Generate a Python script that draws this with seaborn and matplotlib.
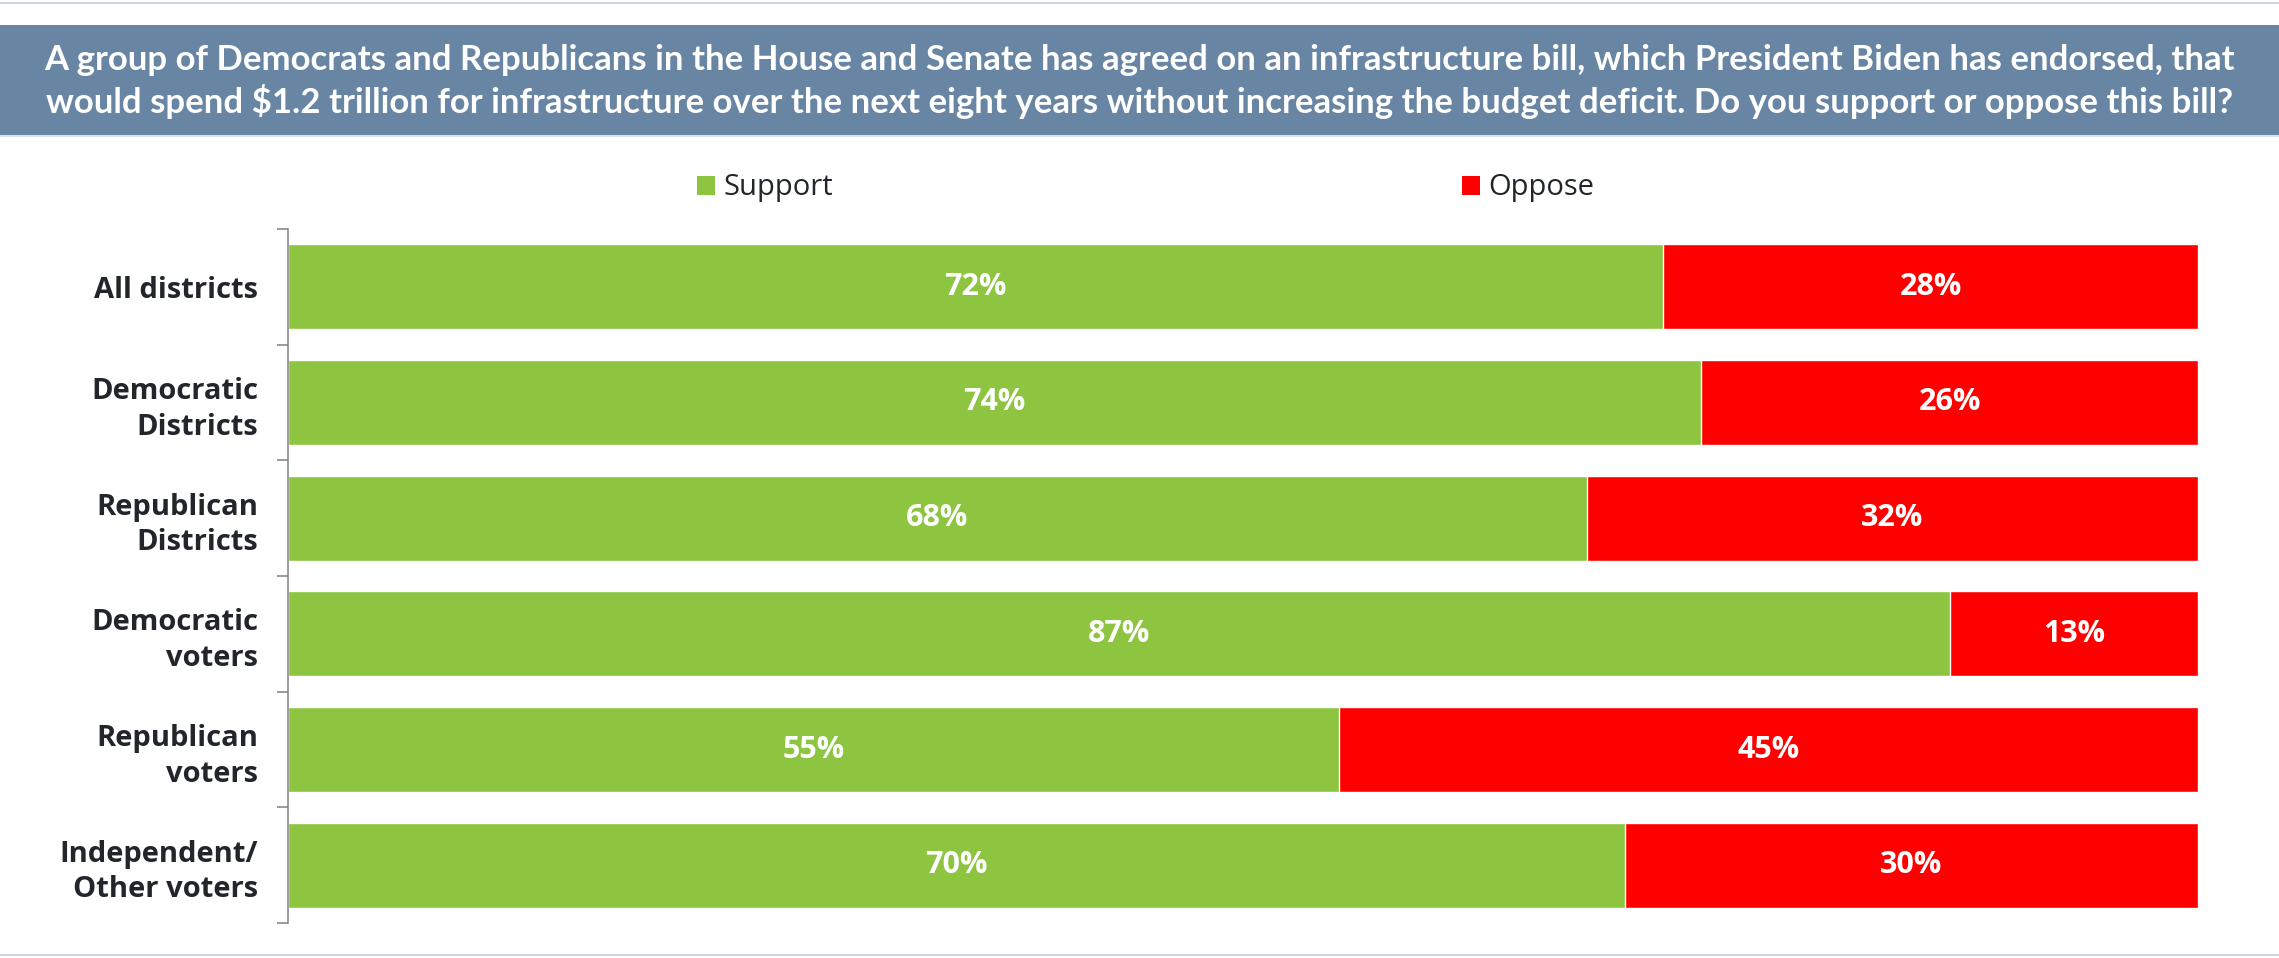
import matplotlib
matplotlib.use("Agg")
import numpy as np
import pandas as pd
import matplotlib.pyplot as plt
import seaborn as sns
from matplotlib.patches import Patch, Rectangle
from matplotlib.lines import Line2D

# Survey results (percent)
groups = ["All districts", "Democratic\nDistricts", "Republican\nDistricts",
          "Democratic\nvoters", "Republican\nvoters", "Independent/\nOther voters"]
support = [72, 74, 68, 87, 55, 70]
oppose = [28, 26, 32, 13, 45, 30]
series_names = ["Support", "Oppose"]
title_lines = [
    "A group of Democrats and Republicans in the House and Senate has agreed on an infrastructure bill, which President Biden has endorsed, that",
    "would spend $1.2 trillion for infrastructure over the next eight years without increasing the budget deficit. Do you support or oppose this bill?",
]

GREEN = "#8DC540"
RED = "#FF0000"
BANNER = "#6886A3"
RULE = "#BFCCD8"
TEXT = "#22262B"
AXIS = "#808080"

sns.set_theme(style="white")
plt.rcParams["font.family"] = ["Open Sans", "DejaVu Sans"]

W, H = 2279, 958
fig = plt.figure(figsize=(W / 100, H / 100), dpi=100)
fig.patch.set_facecolor("white")

# Title banner and thin rules
fig.patches.append(Rectangle((0, 1 - 135 / H), 1, 110 / H, transform=fig.transFigure,
                             facecolor=BANNER, edgecolor="none", zorder=0))
for ypix, col in [(3, RULE), (955, RULE), (135.5, "#D3DEE8")]:
    fig.add_artist(Line2D([0, 1], [1 - ypix / H, 1 - ypix / H], transform=fig.transFigure,
                          color=col, lw=1.2))

title_fs = 24
title_texts = []
for line, base in zip(title_lines, [70, 113]):
    t = fig.text(0.5, 1 - base / H, line, ha="center", va="baseline", color="white",
                 fontweight="bold", fontsize=title_fs, family=["Lato", "DejaVu Sans"])
    title_texts.append(t)
fig.canvas.draw()
renderer = fig.canvas.get_renderer()
w1 = title_texts[0].get_window_extent(renderer).width
for t in title_texts:
    t.set_fontsize(title_fs * 2190 / w1)

# Bars
ax = fig.add_axes([288 / W, 1 - 923 / H, (2198 - 288) / W, (923 - 229) / H])
df = pd.DataFrame({"group": groups, "Support": support, "Oppose": oppose})
df["cumulative"] = df["Support"] + df["Oppose"]

sns.barplot(data=df, y="group", x="cumulative", color=RED, width=0.735, saturation=1,
            errorbar=None, orient="h", ax=ax)
sns.barplot(data=df, y="group", x="Support", color=GREEN, width=0.735, saturation=1,
            errorbar=None, orient="h", ax=ax)

for i, (s, o) in enumerate(zip(support, oppose)):
    ax.text(s / 2, i, f"{s}%", ha="center", va="center", color="white",
            fontweight="bold", fontsize=22)
    ax.text(s + o / 2, i, f"{o}%", ha="center", va="center", color="white",
            fontweight="bold", fontsize=22)

ax.set_xlim(0, 100)
ax.set_ylim(len(groups) - 0.5, -0.5)
ax.set_xlabel("")
ax.set_ylabel("")
ax.set_xticks([])
ax.set_yticks(range(len(groups)))
ax.set_yticklabels(groups, fontweight="bold", fontsize=21, color=TEXT,
                   ha="right", multialignment="right", linespacing=1.3)
ax.set_yticks(np.arange(-0.5, len(groups), 1), minor=True)
ax.tick_params(axis="y", which="major", length=0, pad=21.5)
ax.tick_params(axis="y", which="minor", length=8, width=1.1, color=AXIS, direction="out", left=True)
for side in ["top", "right", "bottom"]:
    ax.spines[side].set_visible(False)
ax.spines["left"].set_color(AXIS)
ax.spines["left"].set_linewidth(1.1)
ax.set_facecolor("white")

# Legend entries
for name, col, xpix in [(series_names[0], GREEN, 697), (series_names[1], RED, 1462)]:
    fig.legend(handles=[Patch(facecolor=col, edgecolor="none", label=name)],
               loc="center left", bbox_to_anchor=(xpix / W, 1 - 188 / H),
               frameon=False, fontsize=21, handlelength=0.62, handleheight=0.62,
               handletextpad=0.28, borderpad=0, borderaxespad=0, labelcolor=TEXT)

fig.savefig("out.png", dpi=100)
